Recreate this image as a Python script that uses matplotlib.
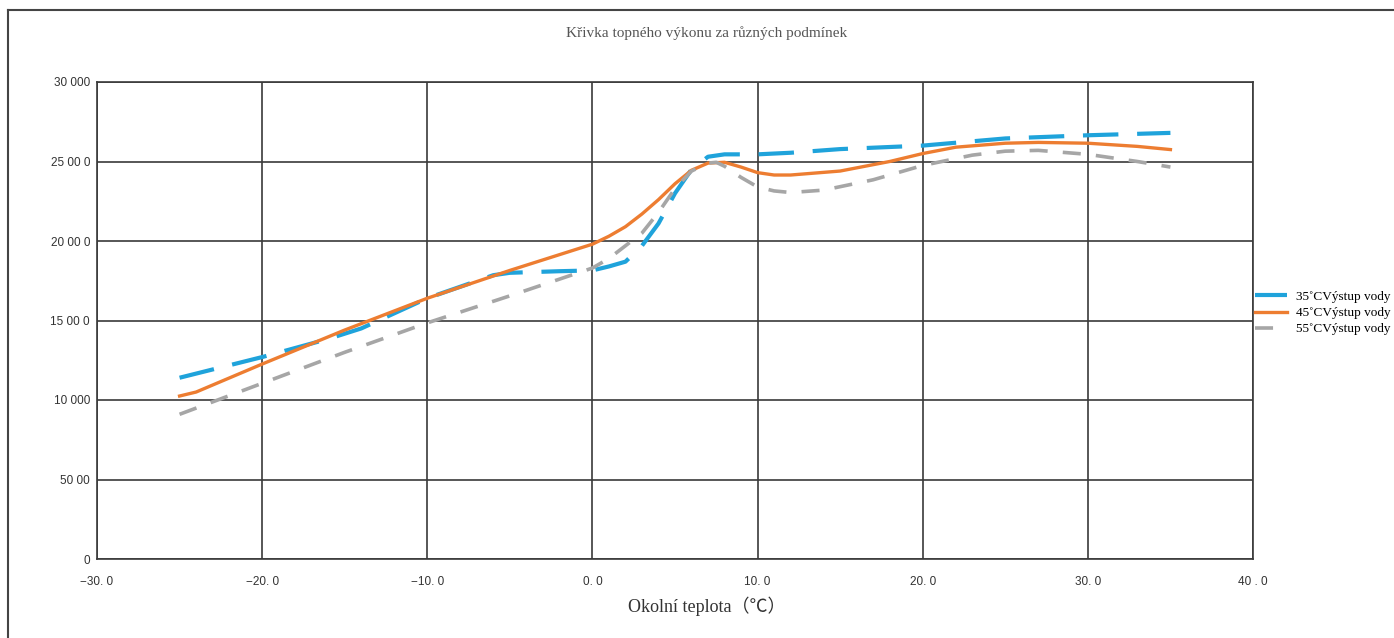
import matplotlib
matplotlib.use("Agg")
import matplotlib.pyplot as plt
from matplotlib.lines import Line2D

# readings from the reference picture
x_35 = [-25, -20, -16, -14, -10, -6, -5, -2, 0, 1, 2, 3, 4, 5, 6, 7, 8, 10, 12, 15, 20, 25, 30, 35]
y_35 = [11400, 12700, 13840, 14500, 16400, 17850, 18000, 18100, 18150, 18400, 18700, 19700,
        21100, 23000, 24500, 25300, 25450, 25450, 25550, 25780, 26000, 26450, 26650, 26800]

x_45 = [-25, -24, -20, -15, -10, -6, -5, 0, 1, 2, 3, 4, 5, 6, 7, 8, 9, 10, 11, 12, 15,
        18, 20, 22, 25, 27, 30, 33, 35]
y_45 = [10250, 10500, 12260, 14400, 16400, 17800, 18150, 19800, 20300, 20900, 21700, 22600,
        23600, 24450, 24900, 24950, 24650, 24300, 24150, 24150, 24400, 25000, 25500, 25900,
        26150, 26200, 26150, 25950, 25750]

x_55 = [-25, -20, -15, -10, -5, -2, 0, 1, 2, 3, 4, 5, 6, 7, 7.5, 8, 9, 10, 11, 12, 14,
        17, 20, 23, 25, 27, 30, 33, 35]
y_55 = [9100, 11050, 13000, 14850, 16550, 17600, 18300, 18900, 19700, 20500, 21800, 23300,
        24400, 24900, 24950, 24700, 24000, 23400, 23150, 23050, 23200, 23850, 24750, 25400,
        25650, 25700, 25450, 25000, 24650]

series_names = ["35˚CVýstup vody", "45˚CVýstup vody", "55˚CVýstup vody"]
x_ticks = [-30, -20, -10, 0, 10, 20, 30, 40]
x_tick_labels = ["−30. 0", "−20. 0", "−10. 0", "0. 0", "10. 0", "20. 0", "30. 0", "40 . 0"]
y_ticks = [0, 5000, 10000, 15000, 20000, 25000, 30000]
y_tick_labels = ["0", "50 00", "10 000", "15 00 0", "20 00 0", "25 00 0", "30 000"]

W, H = 1394, 638
fig = plt.figure(figsize=(W / 100, H / 100), dpi=100)
ax = fig.add_axes([97 / W, 1 - 559 / H, (1253 - 97) / W, (559 - 82) / H])

serif = ["Liberation Serif", "Noto Sans CJK SC", "DejaVu Sans"]
sans = ["Liberation Sans", "DejaVu Sans"]

ax.plot(x_35, y_35, color="#1fa3db", lw=3, dashes=(8.5, 4.5), label=series_names[0])
ax.plot(x_45, y_45, color="#ed7d31", lw=2.4, label=series_names[1])
ax.plot(x_55, y_55, color="#a6a6a6", lw=2.6, dashes=(5, 4.2), label=series_names[2])

ax.set_xlim(-30, 40)
ax.set_ylim(0, 30000)
ax.set_xticks(x_ticks)
ax.set_xticklabels(x_tick_labels, family=sans, fontsize=8.5, color="#333333")
ax.set_yticks(y_ticks)
ax.set_yticklabels(y_tick_labels, family=sans, fontsize=8.5, color="#333333")
ax.tick_params(axis="x", length=0, pad=12)
ax.tick_params(axis="y", length=0, pad=5)
ax.grid(True, color="#3a3a3a", lw=1.2)
ax.set_axisbelow(True)
for s in ax.spines.values():
    s.set_color("#3a3a3a")
    s.set_linewidth(1.2)

fig.text(707 / W, 1 - 33 / H, "Křivka topného výkonu za různých podmínek", family=serif,
         fontsize=11, color="#555555", ha="center", va="center")
fig.text(707 / W, 1 - 606 / H, "Okolní teplota（℃）", family=serif,
         fontsize=13, color="#333333", ha="center", va="center")

fig.legend(loc="center left", bbox_to_anchor=(1255 / W, 1 - 313 / H), frameon=False,
           prop={"family": serif, "size": 9.5}, handlelength=2.4, handletextpad=0.7,
           labelspacing=0.3, borderaxespad=0, borderpad=0)

# outer frame (left and top edges visible)
fig.add_artist(Line2D([8 / W, 8 / W], [-0.1, 1 - 10 / H], transform=fig.transFigure,
                      color="#444444", lw=1.5))
fig.add_artist(Line2D([8 / W, 1.1], [1 - 10 / H, 1 - 10 / H], transform=fig.transFigure,
                      color="#444444", lw=1.5))

fig.savefig("out.png", dpi=100)
